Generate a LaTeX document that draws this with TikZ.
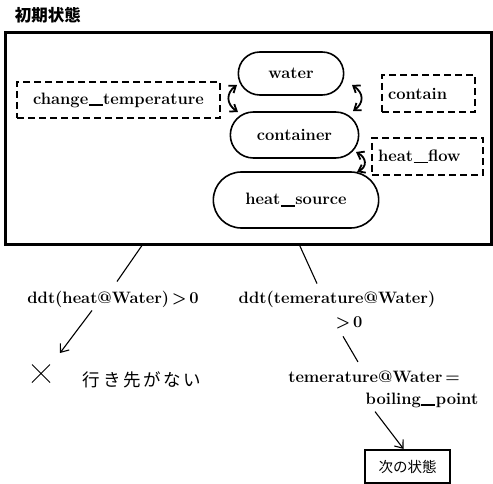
\documentclass[tikz,border=0pt]{standalone}
\usepackage{fontspec}
\newfontfamily\cjk{Noto Sans CJK JP}
\usetikzlibrary{shapes.misc,arrows.meta,calc}
\newcommand\usc{\kern0.5pt\rule[-1.8pt]{14pt}{1.5pt}\kern0.5pt}
\tikzset{
  lbl/.style={font=\fontsize{16.5}{19}\bfseries\selectfont, inner sep=1pt},
  oval/.style={rounded rectangle, draw, line width=1.6pt, font=\fontsize{16.5}{19}\bfseries\selectfont},
  dbox/.style={draw, dashed, dash pattern=on 7pt off 4pt, line width=1.7pt, font=\fontsize{16.5}{19}\bfseries\selectfont, inner ysep=0pt, minimum height=36pt},
  conn/.style={line width=1.1pt},
  arr/.style={line width=1.1pt, -{Straight Barb[length=7pt,width=11pt]}},
  darr/.style={line width=1.8pt, {Straight Barb[length=6pt,width=9pt,line width=1.8pt]}-{Straight Barb[length=6pt,width=9pt,line width=1.8pt]}},
}
\begin{document}
\begin{tikzpicture}[x=1pt,y=-1pt]
\useasboundingbox (0,0) rectangle (493,484);
% title
\node (title) at (48,15) {\cjk\bfseries\fontsize{16.5}{18}\selectfont 初期状態};
% main state box
\node[draw, line width=3pt, minimum width=486pt, minimum height=211pt, inner sep=0pt] (state) at (248.5,138.5) {};
% objects
\node[oval, minimum width=112pt, minimum height=43pt] (water) at (291,73.5) {water};
\node[oval, minimum width=135pt, minimum height=46pt] (container) at (294.5,135) {container};
\node[oval, minimum width=172pt, minimum height=56pt] (heatsource) at (296,200) {heat\usc source};
% relations
\node[dbox, minimum width=203pt] (chtemp) at (118.5,100) {change\usc temperature};
\node[dbox, text width=81pt, inner xsep=6pt, align=left, minimum height=37pt] (contain) at (428.5,93.5) {contain};
\node[dbox, text width=99pt, inner xsep=6pt, align=left, minimum height=37pt] (heatflow) at (427.5,156.5) {heat\usc flow};
% curved double arrows
\coordinate (c1a) at (237,85); \coordinate (c1b) at (238,112);
\draw[darr] (c1a) .. controls (226,93) and (226,104) .. (c1b);
\coordinate (c2a) at (352,85); \coordinate (c2b) at (353,111);
\draw[darr] (c2a) .. controls (364,93) and (364,103) .. (c2b);
\coordinate (c3a) at (356,152); \coordinate (c3b) at (357,172);
\draw[darr] (c3a) .. controls (367,158) and (367,167) .. (c3b);
% lower branches
\node[lbl] (n1) at (113,299) {ddt(heat@Water)\,>\,0};
\node[lbl] (n2) at (337,299) {ddt(temerature@Water)};
\node[lbl] (n2b) at (349,323) {>\,0};
\node[lbl] (n3) at (374,377) {temerature@Water\,=};
\node[lbl] (n3b) at (422,400) {boiling\usc point};
\node (nogo) at (142,380) {\cjk\fontsize{17.5}{18}\selectfont\addfontfeatures{LetterSpace=15} 行き先がない};
\node[draw, line width=2.2pt, minimum width=85pt, minimum height=33pt, inner sep=0pt] (next) at (407.5,466.5) {\cjk\fontsize{14.5}{16}\selectfont 次の状態};
\coordinate (b1) at (143,244);
\coordinate (b2) at (299,244);
\coordinate (cross) at (41,373.5);
\coordinate (a1) at (60,353);
\draw[line width=1pt] ($(cross)+(-9,-9)$) -- ($(cross)+(9,9)$) ($(cross)+(9,-9)$) -- ($(cross)+(-9,9)$);
\draw[conn] (b1) -- ([xshift=4pt,yshift=8pt]n1.north);
\draw[arr] ([xshift=-21pt,yshift=-2pt]n1.south) -- (a1);
\draw[conn] (b2) -- ([xshift=-20pt,yshift=6pt]n2.north);
\draw[conn] ([xshift=-6pt,yshift=-6pt]n2b.south) -- ([xshift=-16pt,yshift=8pt]n3.north);
\draw[arr] ([xshift=-47pt,yshift=-3pt]n3b.south) -- ([xshift=-4pt]next.north);
\end{tikzpicture}
\end{document}
